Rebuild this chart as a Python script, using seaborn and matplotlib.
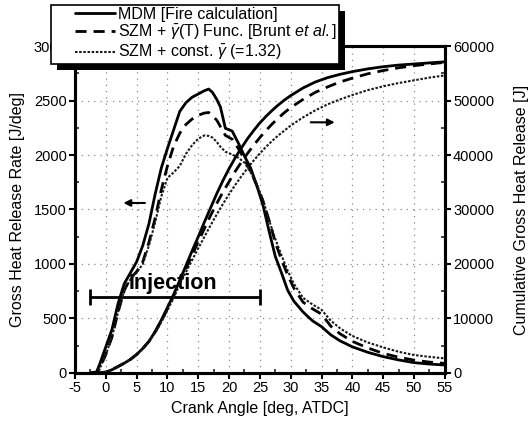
import matplotlib
matplotlib.use("Agg")
import matplotlib.pyplot as plt
import seaborn as sns
from matplotlib.patches import Rectangle
from matplotlib.legend_handler import HandlerLine2D
from matplotlib.ticker import MultipleLocator

# Heat release rate [J/deg] versus crank angle [deg, ATDC]
crank_angle = [-2.5, -1.5, -1, 0, 1, 2, 3, 4, 5, 6, 7, 8, 9, 10, 11, 12, 13, 14, 15, 16,
               16.7, 17.3, 18, 18.6, 19.4, 20.5, 21.5, 22.5, 23.5, 24.5, 25.5, 26.5, 27.5,
               28.5, 29.5, 30.5, 32, 33.5, 35, 36.5, 38, 40, 42.5, 45, 47.5, 50, 52.5, 55]
hrr_mdm = [0, 10, 80, 240, 400, 640, 820, 920, 1020, 1170, 1370, 1640, 1880, 2060, 2230, 2400,
           2480, 2530, 2560, 2590, 2605, 2575, 2510, 2440, 2245, 2220, 2110, 1990, 1880, 1720,
           1540, 1300, 1070, 920, 760, 660, 560, 480, 425, 350, 295, 240, 190, 150, 120, 95, 82, 73]
hrr_szm_func = [0, 5, 40, 170, 330, 560, 760, 870, 930, 1020, 1200, 1420, 1680, 1900, 2080, 2200,
                2280, 2330, 2365, 2385, 2390, 2360, 2320, 2260, 2180, 2145, 2060, 1960, 1850, 1720,
                1580, 1400, 1200, 1040, 900, 780, 650, 590, 540, 430, 360, 290, 230, 180, 145, 118, 100, 88]
hrr_szm_const = [0, 5, 40, 170, 330, 560, 760, 860, 920, 1000, 1170, 1380, 1620, 1790, 1840, 1900,
                 2010, 2090, 2150, 2180, 2175, 2160, 2120, 2075, 2030, 2005, 1975, 1930, 1840, 1730,
                 1590, 1400, 1230, 1080, 940, 820, 690, 630, 580, 480, 410, 340, 280, 235, 195, 165, 148, 134]

# Cumulative gross heat release [J]
crank_angle_cum = [-1.5, 0, 1, 2, 3, 4, 5, 6, 7, 8, 9, 10, 11, 12, 13, 14, 15, 16, 17, 18, 19, 20,
                   21, 22, 23, 24, 25, 26, 27, 28, 29, 30, 32, 34, 36, 38, 40, 42.5, 45, 47.5, 50, 52.5, 55]
cum_mdm = [0, 150, 600, 1200, 1800, 2500, 3400, 4500, 5800, 7600, 9700, 12000, 14400, 17000, 19700,
           22400, 25000, 27700, 30300, 32900, 35300, 37500, 39500, 41300, 43000, 44500, 45900, 47100,
           48200, 49200, 50100, 50900, 52300, 53400, 54200, 54800, 55300, 55800, 56200, 56500, 56700,
           56900, 57100]
cum_szm_func = [0, 150, 600, 1200, 1800, 2500, 3400, 4500, 5800, 7500, 9500, 11800, 14100, 16600, 19100,
                21600, 24100, 26500, 28900, 31100, 33200, 35100, 37000, 38700, 40300, 41800, 43200, 44500,
                45700, 46800, 47800, 48700, 50200, 51500, 52500, 53400, 54100, 54900, 55500, 56000, 56400,
                56700, 57000]
cum_szm_const = [0, 150, 600, 1200, 1800, 2500, 3400, 4500, 5800, 7400, 9300, 11500, 13800, 16300, 18500,
                 20700, 22900, 25000, 27100, 29100, 31000, 32800, 34500, 36100, 37600, 39000, 40300, 41500,
                 42600, 43600, 44500, 45400, 46900, 48200, 49300, 50200, 51000, 51900, 52600, 53200, 53700,
                 54200, 54600]

legend_labels = [
    "MDM [Fire calculation]",
    r"SZM + $\bar{\gamma}$(T) Func. [Brunt $\mathit{et\ al.}$]",
    r"SZM + const. $\bar{\gamma}$ (=1.32)",
]
injection_start, injection_end, injection_level = -2.5, 25, 700

sns.set_theme(style="ticks")
plt.rcParams["font.family"] = ["Liberation Sans", "DejaVu Sans"]
plt.rcParams["mathtext.fontset"] = "custom"
plt.rcParams["mathtext.rm"] = "Liberation Sans"
plt.rcParams["mathtext.it"] = "Liberation Sans:italic"
plt.rcParams["mathtext.bf"] = "Liberation Sans:bold"
plt.rcParams["axes.unicode_minus"] = False
plt.rcParams["text.color"] = "black"
plt.rcParams["axes.labelcolor"] = "black"

fig = plt.figure(figsize=(5.32, 4.30), dpi=100)
ax = fig.add_axes([0.141, 0.1326, 0.695, 0.7604])
ax2 = ax.twinx()

styles = [
    dict(color="black", lw=2.0, linestyle="-"),
    dict(color="black", lw=2.0, linestyle=(0, (4, 2.5))),
    dict(color="#1a1a1a", lw=1.5, linestyle=(0, (1.2, 0.8))),
]

for yvals, st in zip([hrr_mdm, hrr_szm_func, hrr_szm_const], styles):
    sns.lineplot(x=crank_angle, y=yvals, ax=ax, **st)
for yvals, st in zip([cum_mdm, cum_szm_func, cum_szm_const], styles):
    sns.lineplot(x=crank_angle_cum, y=yvals, ax=ax2, **st)

handles = ax.lines[:3]

ax.set_xlim(-5, 55)
ax.set_ylim(0, 3000)
ax2.set_ylim(0, 60000)
ax.xaxis.set_major_locator(MultipleLocator(5))
ax.xaxis.set_minor_locator(MultipleLocator(2.5))
ax.yaxis.set_major_locator(MultipleLocator(500))
ax.yaxis.set_minor_locator(MultipleLocator(250))
ax2.yaxis.set_major_locator(MultipleLocator(10000))
ax2.yaxis.set_minor_locator(MultipleLocator(5000))

ax.grid(True, which="major", color="#8a8a8a", linestyle=(0, (1, 4)), lw=0.9)
ax2.grid(False)

for a in (ax, ax2):
    for sp in a.spines.values():
        sp.set_linewidth(2.2)
        sp.set_color("black")
    a.tick_params(which="major", direction="out", length=4, width=1.5, labelsize=10.5,
                  colors="black", pad=2)
    a.tick_params(which="minor", direction="in", length=3, width=1.2)

ax.set_xlabel("Crank Angle [deg, ATDC]", fontsize=11.5, labelpad=4)
ax.set_ylabel("Gross Heat Release Rate [J/deg]", fontsize=11.5, labelpad=6)
ax2.set_ylabel("Cumulative Gross Heat Release [J]", fontsize=11.5, labelpad=14)

# Injection duration bar
mid = 0.5 * (injection_start + injection_end)
half = 0.5 * (injection_end - injection_start)
ax.errorbar(x=[mid], y=[injection_level], xerr=[half], color="black", elinewidth=2,
            capsize=5.5, capthick=2, fmt="none", zorder=1)
ax.text(10.9, 770, "Injection", fontsize=15.5, fontweight="bold", ha="center",
        va="baseline", zorder=1)

# Arrows pointing to the relevant axis
ax.annotate("", xy=(2.4, 1560), xytext=(6.8, 1560),
            arrowprops=dict(arrowstyle="-|>", color="black", lw=1.5, mutation_scale=10))
ax2.annotate("", xy=(37.6, 46000), xytext=(32.8, 46000),
             arrowprops=dict(arrowstyle="-|>", color="black", lw=1.5, mutation_scale=10))

# Legend handles are indented inside a wide frame
handler = HandlerLine2D(xpad=1.4)
leg = fig.legend(handles, legend_labels, loc="upper left",
                 bbox_to_anchor=(51 / 532, 1 - 5 / 430), frameon=True, fancybox=False,
                 edgecolor="black", framealpha=1, fontsize=11.5, handlelength=3.9,
                 borderpad=0.1, labelspacing=0.08, handletextpad=0.2, borderaxespad=0,
                 handler_map={h: handler for h in handles})
leg.get_frame().set_linewidth(1.2)
leg.set_zorder(5)

fig.canvas.draw()
bb = leg.get_window_extent().transformed(fig.transFigure.inverted())
shadow = Rectangle((bb.x0 + 6 / 532, bb.y0 - 6 / 430), bb.width, bb.height,
                   transform=fig.transFigure, facecolor="black", edgecolor="none", zorder=4)
fig.add_artist(shadow)

fig.savefig("out.png", dpi=100)
